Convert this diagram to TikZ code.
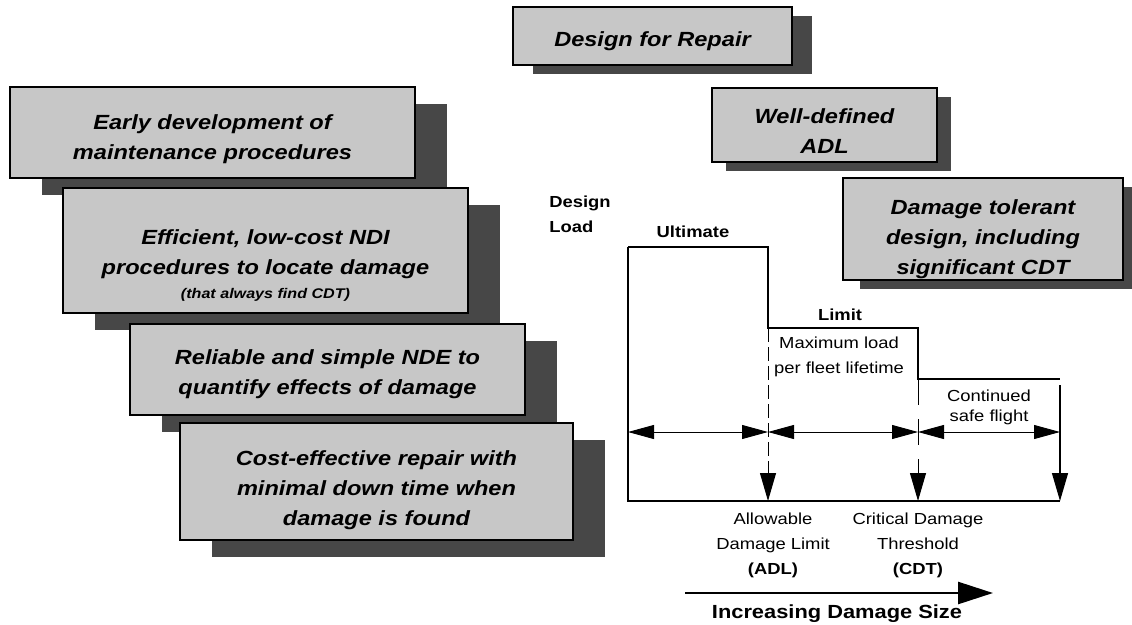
\documentclass[tikz,border=0pt]{standalone}
\usepackage{fontspec}
\setmainfont{Liberation Sans}[FakeStretch=1.15]
\usepackage{tikz}
\usetikzlibrary{arrows.meta, shadows}
\newcommand{\droptext}[1]{\rule{0pt}{#1}}% pushes box text down a little
\tikzset{
  tipbox/.style={draw=black,line width=1.3pt,fill=black!22,align=center,inner sep=0pt,
    font=\bfseries\itshape\fontsize{20.5}{30}\selectfont},
  deepshadow/.style={drop shadow={shadow xshift=32pt,shadow yshift=-17pt,fill=black!72,opacity=1}},
  flatshadow/.style={drop shadow={shadow xshift=#1,shadow yshift=-9pt,fill=black!72,opacity=1}},
  plotline/.style={line width=1.4pt},
  dimarrow/.style={{Triangle[length=26pt,width=14pt]}-{Triangle[length=26pt,width=14pt]},line width=0.9pt},
  droparrow/.style={-{Triangle[length=28pt,width=16pt]},line width=1pt},
  dashdrop/.style={droparrow,dash pattern=on 14pt off 5pt},
  growarrow/.style={-{Triangle[length=35pt,width=22pt]},line width=2.6pt},
  plotlbl/.style={align=center,font=\fontsize{16}{25}\selectfont},
  plotkey/.style={align=center,font=\bfseries\fontsize{16}{25}\selectfont},
}
\begin{document}
\begin{tikzpicture}[x=1pt,y=-1pt]
  \useasboundingbox (0,0) rectangle (1132,624);
  % design goals, top right
  \node[tipbox,flatshadow=20pt,minimum width=279pt,minimum height=58pt] (nRepair) at (652.5,36) {\droptext{25pt}Design for Repair};
  \node[tipbox,flatshadow=14pt,minimum width=225pt,minimum height=74pt] (nWellADL) at (824.5,125) {\droptext{27pt}Well-defined\\ADL};
  \node[tipbox,flatshadow=17pt,minimum width=280pt,minimum height=102pt] (nTolerant) at (983,229) {\droptext{35pt}Damage tolerant\\design, including\\significant CDT};
  % stacked procedure boxes, left
  \node[tipbox,deepshadow,minimum width=405pt,minimum height=91pt] (nEarly) at (212.5,132.5) {\droptext{29pt}Early development of\\maintenance procedures};
  \node[tipbox,deepshadow,minimum width=405pt,minimum height=125pt] (nNDI) at (265.5,250.5) {\droptext{45pt}Efficient, low-cost NDI\\procedures to locate damage\\[-6pt]{\fontsize{14}{20}\selectfont (that always find CDT)}};
  \node[tipbox,deepshadow,minimum width=395pt,minimum height=91pt] (nNDE) at (327.5,369.5) {\droptext{25pt}Reliable and simple NDE to\\quantify effects of damage};
  \node[tipbox,deepshadow,minimum width=393pt,minimum height=117pt] (nFix) at (376.5,481.5) {\droptext{33pt}Cost-effective repair with\\minimal down time when\\damage is found};
  % load versus damage size
  \coordinate (base0) at (628,501);
  \coordinate (ultL) at (628,247);
  \coordinate (ultR) at (768,247);
  \coordinate (limL) at (768,328);
  \coordinate (limR) at (918,328);
  \coordinate (safeL) at (918,379);
  \coordinate (safeR) at (1060,379);
  \coordinate (safeDrop) at (1060,385);
  \coordinate (adl) at (768,501);
  \coordinate (cdt) at (918,501);
  \coordinate (baseEnd) at (1060,501);
  \coordinate (r0) at (628,432);
  \coordinate (r1) at (768,432);
  \coordinate (r2) at (918,432);
  \coordinate (r3) at (1060,432);
  \coordinate (grow0) at (685,593);
  \coordinate (grow1) at (993,593);
  \draw[plotline] (ultL) -- (ultR) -- (limL) -- (limR) -- (safeL) -- (safeR);
  \draw[plotline] (ultL) -- (base0) -- (baseEnd);
  \draw[dimarrow] (r0) -- (r1);
  \draw[dimarrow] (r1) -- (r2);
  \draw[dimarrow] (r2) -- (r3);
  \draw[dashdrop] (limL) -- (adl);
  \draw[dashdrop,dash pattern=on 26pt off 14pt] (safeL) -- (cdt);
  \draw[droparrow,line width=1.4pt] (safeDrop) -- (baseEnd);
  \draw[growarrow] (grow0) -- (grow1);
  % labels
  \node[plotkey,align=left] (nDesignLoad) at (580,214) {Design\\Load};
  \node[plotkey] (nUltimate) at (693,232) {Ultimate};
  \node[plotkey] (nLimit) at (840,315) {Limit};
  \node[plotlbl] (nMaxLoad) at (839,357) {Maximum load\\per fleet lifetime};
  \node[plotlbl,font=\fontsize{16}{20}\selectfont] (nSafe) at (989,407) {Continued\\safe flight};
  \node[plotlbl] (nADL) at (773,545) {Allowable\\Damage Limit\\\textbf{(ADL)}};
  \node[plotlbl] (nCDT) at (918,545) {Critical Damage\\Threshold\\\textbf{(CDT)}};
  \node[plotkey,font=\bfseries\fontsize{19}{22}\selectfont] (nGrow) at (837,614) {Increasing Damage Size};
\end{tikzpicture}
\end{document}
